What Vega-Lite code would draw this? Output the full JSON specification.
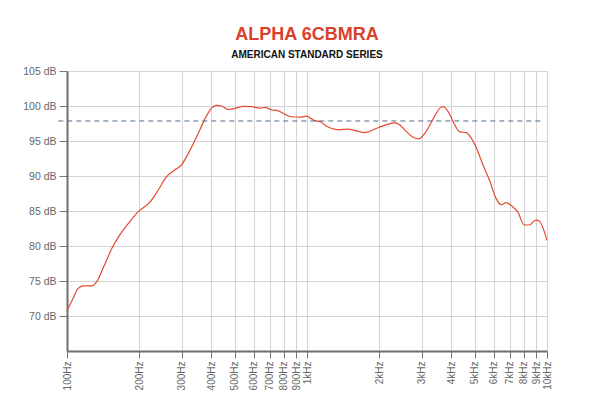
{
  "$schema": "https://vega.github.io/schema/vega-lite/v6.json",
  "width": 480,
  "height": 280,
  "autosize": "none",
  "padding": {"left": 67, "top": 71, "right": 63, "bottom": 63},
  "background": "white",
  "config": {
    "view": {"stroke": null},
    "font": "Liberation Sans"
  },
  "title": {
    "text": "ALPHA 6CBMRA",
    "subtitle": "AMERICAN STANDARD SERIES",
    "anchor": "middle",
    "font": "Liberation Sans",
    "fontSize": 18,
    "fontWeight": "bold",
    "color": "#d9412b",
    "subtitleFont": "Liberation Sans",
    "subtitleFontSize": 10,
    "subtitleFontWeight": "bold",
    "subtitleColor": "#111111",
    "subtitlePadding": 6,
    "offset": 6
  },
  "datasets": {
    "curve": [
      {"f": 100, "db": 70.8},
      {"f": 106, "db": 72.5},
      {"f": 111, "db": 73.9},
      {"f": 117, "db": 74.3},
      {"f": 127, "db": 74.3},
      {"f": 133, "db": 74.9},
      {"f": 142, "db": 77.0},
      {"f": 154, "db": 79.7},
      {"f": 166, "db": 81.6},
      {"f": 180, "db": 83.2},
      {"f": 198, "db": 84.9},
      {"f": 222, "db": 86.3},
      {"f": 240, "db": 88.0},
      {"f": 260, "db": 89.9},
      {"f": 282, "db": 90.9},
      {"f": 300, "db": 91.6},
      {"f": 320, "db": 93.2},
      {"f": 347, "db": 95.6},
      {"f": 376, "db": 98.2},
      {"f": 400, "db": 99.7},
      {"f": 420, "db": 100.1},
      {"f": 441, "db": 100.0},
      {"f": 469, "db": 99.5},
      {"f": 494, "db": 99.6},
      {"f": 543, "db": 99.95},
      {"f": 588, "db": 99.9},
      {"f": 636, "db": 99.7},
      {"f": 670, "db": 99.8},
      {"f": 702, "db": 99.5},
      {"f": 760, "db": 99.3},
      {"f": 797, "db": 98.95},
      {"f": 850, "db": 98.5},
      {"f": 936, "db": 98.4},
      {"f": 998, "db": 98.55},
      {"f": 1040, "db": 98.2},
      {"f": 1081, "db": 97.9},
      {"f": 1132, "db": 97.8},
      {"f": 1206, "db": 97.1},
      {"f": 1349, "db": 96.6},
      {"f": 1483, "db": 96.7},
      {"f": 1737, "db": 96.2},
      {"f": 1979, "db": 96.9},
      {"f": 2321, "db": 97.6},
      {"f": 2439, "db": 97.3},
      {"f": 2602, "db": 96.3},
      {"f": 2778, "db": 95.5},
      {"f": 2918, "db": 95.3},
      {"f": 3113, "db": 96.2},
      {"f": 3360, "db": 98.2},
      {"f": 3578, "db": 99.7},
      {"f": 3693, "db": 99.9},
      {"f": 3873, "db": 99.2},
      {"f": 4127, "db": 97.3},
      {"f": 4327, "db": 96.3},
      {"f": 4612, "db": 96.2},
      {"f": 4835, "db": 95.4},
      {"f": 5153, "db": 93.5},
      {"f": 5406, "db": 91.6},
      {"f": 5759, "db": 89.4},
      {"f": 6135, "db": 86.8},
      {"f": 6434, "db": 85.9},
      {"f": 6749, "db": 86.2},
      {"f": 7191, "db": 85.6},
      {"f": 7543, "db": 84.9},
      {"f": 8036, "db": 83.0},
      {"f": 8429, "db": 83.0},
      {"f": 8981, "db": 83.7},
      {"f": 9261, "db": 83.6},
      {"f": 10000, "db": 80.8}
    ],
    "ref": [
      {"f": 92, "f2": 9555, "db": 97.86}
    ]
  },
  "encoding": {
    "x": {
      "field": "f",
      "type": "quantitative",
      "scale": {"type": "log", "domain": [100, 10000], "nice": false},
      "axis": {
        "title": null,
        "values": [100, 200, 300, 400, 500, 600, 700, 800, 900, 1000, 2000, 3000, 4000, 5000, 6000, 7000, 8000, 9000, 10000],
        "labelExpr": "datum.value >= 1000 ? (datum.value / 1000) + 'kHz' : datum.value + 'Hz'",
        "labelAngle": -90,
        "labelFontSize": 10,
        "labelColor": "#666666",
        "labelPadding": 3,
        "labelFlush": false,
        "labelOverlap": false,
        "labelBound": false,
        "tickSize": 7,
        "tickColor": "#777777",
        "tickWidth": 1,
        "domainColor": "#6e6e6e",
        "domainWidth": 2,
        "grid": true,
        "gridColor": "#d4d4d4",
        "gridWidth": 1
      }
    },
    "y": {
      "field": "db",
      "type": "quantitative",
      "scale": {"domain": [65, 105], "nice": false, "zero": false},
      "axis": {
        "title": null,
        "values": [70, 75, 80, 85, 90, 95, 100, 105],
        "labelExpr": "datum.value + ' dB'",
        "labelFontSize": 10.5,
        "labelColor": "#666666",
        "labelPadding": 3,
        "labelFlush": false,
        "labelOverlap": false,
        "labelBound": false,
        "tickSize": 8,
        "tickColor": "#777777",
        "tickWidth": 1,
        "domainColor": "#6e6e6e",
        "domainWidth": 2,
        "grid": true,
        "gridColor": "#d4d4d4",
        "gridWidth": 1
      }
    }
  },
  "layer": [
    {
      "data": {"name": "curve"},
      "mark": {"type": "line", "color": "#e5492f", "strokeWidth": 1.2, "interpolate": "monotone"}
    },
    {
      "data": {"name": "ref"},
      "mark": {"type": "rule", "color": "#4f6a86", "strokeWidth": 1, "strokeDash": [5, 4], "clip": false},
      "encoding": {
        "x2": {"field": "f2"}
      }
    }
  ]
}
